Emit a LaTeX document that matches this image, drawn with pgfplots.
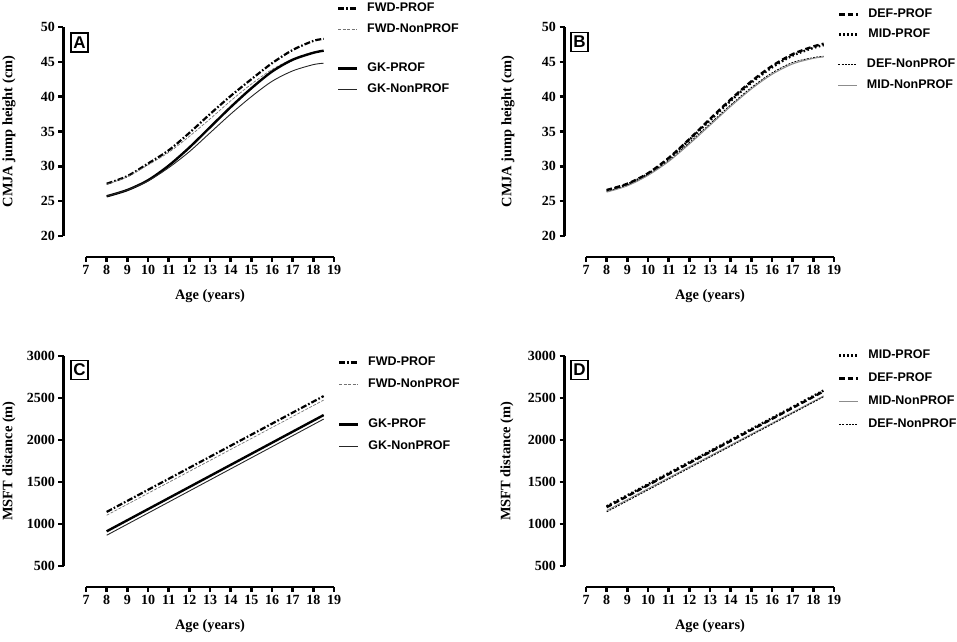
\documentclass[border=0pt]{standalone}
\usepackage{fontspec}
\setmainfont{Liberation Serif}
\newfontfamily\lsans{Liberation Sans}
\usepackage{pgfplots}
\pgfplotsset{compat=1.18}
\tikzset{
  fwdprof/.style={black, line width=2.2pt, dash pattern=on 6pt off 2pt on 1.6pt off 2pt},
  fwdnon/.style={black!55, line width=0.7pt, dash pattern=on 3pt off 1.5pt},
  gkprof/.style={black, line width=2.4pt},
  gknon/.style={black!85, line width=0.9pt},
  defprof/.style={black, line width=2.4pt, dash pattern=on 5.5pt off 3pt},
  midprof/.style={black, line width=2.4pt, dash pattern=on 1.6pt off 2.4pt},
  defnon/.style={black, line width=0.9pt, dash pattern=on 2pt off 1.2pt},
  midnon/.style={black!45, line width=1pt},
}
\pgfplotsset{
  panel/.style={scale only axis, width=248pt, anchor=south west,
    axis x line*=bottom, axis y line*=left,
    axis line style={line width=2.6pt, black},
    xmin=7, xmax=19, xtick={7,...,19},
    tick align=outside, major tick length=5pt,
    every tick/.style={line width=2.4pt, black},
    tick label style={font=\fontsize{14}{14}\selectfont\bfseries},
    /pgf/number format/assume math mode=true,
    /pgf/number format/1000 sep={},
    axis x line shift=21pt,
    xlabel={Age (years)},
    label style={font=\fontsize{14.4}{14.4}\selectfont\bfseries},
    xlabel style={anchor=center},
    ylabel style={anchor=center},
    clip=false},
  leg/.style={legend style={draw=none, fill=none, inner sep=0pt, outer sep=0pt,
      anchor=north west,
      nodes={inner sep=0pt, text height=9pt, text depth=3pt,
        font=\lsans\bfseries\fontsize{12.5}{12.5}\selectfont},
      column sep=9pt},
    legend cell align=left,
    legend image code/.code={\draw[##1] (0pt,0pt) -- (19pt,0pt);}},
  overlay/.style={scale only axis, width=248pt, anchor=south west, hide axis,
    xmin=7, xmax=19, leg},
}
\begin{document}
\begin{tikzpicture}
\useasboundingbox (0,0) rectangle (957pt,641pt);
% ---------------- Panel A ----------------
\begin{axis}[panel, at={(86pt,405pt)}, height=209pt,
  ymin=20, ymax=50, ytick={20,25,...,50}, axis y line shift=22.5pt,
  ylabel={CMJA jump height (cm)},
  xlabel style={at={(axis description cs:0.5,-0.287)}},
  ylabel style={at={(axis description cs:-0.3105,0.5)}},
  leg, legend style={at={(axis description cs:1.012,1.117)}, row sep=8.5pt}]
\addplot[fwdprof, smooth] coordinates {(8,27.5) (9,28.6) (10,30.4) (11,32.3) (12,34.8) (13,37.5) (14,40.1) (15,42.5) (16,44.8) (17,46.7) (18,48.0) (18.5,48.3)};
\addlegendentry{FWD-PROF}
\addplot[fwdnon, smooth] coordinates {(8,27.4) (9,28.5) (10,30.2) (11,32.0) (12,34.3) (13,36.8) (14,39.4) (15,41.8) (16,43.9) (17,45.4) (18,46.4) (18.5,46.6)};
\addlegendentry{FWD-NonPROF}
\addplot[gkprof, smooth, forget plot] coordinates {(8,25.7) (9,26.6) (10,28.0) (11,30.1) (12,32.7) (13,35.6) (14,38.5) (15,41.2) (16,43.6) (17,45.3) (18,46.3) (18.5,46.6)};
\addplot[gknon, smooth, forget plot] coordinates {(8,25.7) (9,26.6) (10,27.9) (11,29.8) (12,32.1) (13,34.8) (14,37.5) (15,40.0) (16,42.2) (17,43.7) (18,44.6) (18.5,44.8)};
\end{axis}
\begin{axis}[overlay, at={(86pt,405pt)}, height=209pt, ymin=20, ymax=50,
  legend style={at={(axis description cs:1.012,0.830)}, row sep=8.5pt}]
\addlegendimage{gkprof}
\addlegendentry{GK-PROF}
\addlegendimage{gknon}
\addlegendentry{GK-NonPROF}
\end{axis}
% ---------------- Panel B ----------------
\begin{axis}[panel, at={(586pt,405pt)}, height=209pt,
  ymin=20, ymax=50, ytick={20,25,...,50}, axis y line shift=21.5pt,
  ylabel={CMJA jump height (cm)},
  xlabel style={at={(axis description cs:0.5,-0.287)}},
  ylabel style={at={(axis description cs:-0.3145,0.5)}},
  leg, legend style={at={(axis description cs:1.016,1.0885)}, row sep=8pt}]
\addplot[defprof, smooth] coordinates {(8,26.6) (9,27.5) (10,29.0) (11,31.2) (12,33.9) (13,36.8) (14,39.6) (15,42.2) (16,44.4) (17,46.1) (18,47.2) (18.5,47.6)};
\addlegendentry{DEF-PROF}
\addplot[midprof, smooth] coordinates {(8,26.5) (9,27.4) (10,28.9) (11,31.1) (12,33.8) (13,36.6) (14,39.4) (15,42.0) (16,44.2) (17,45.9) (18,47.0) (18.5,47.4)};
\addlegendentry{MID-PROF}
\addplot[defnon, smooth, forget plot] coordinates {(8,26.4) (9,27.3) (10,28.8) (11,30.8) (12,33.4) (13,36.1) (14,38.8) (15,41.3) (16,43.4) (17,44.9) (18,45.6) (18.5,45.8)};
\addplot[midnon, smooth, forget plot] coordinates {(8,26.3) (9,27.2) (10,28.7) (11,30.7) (12,33.2) (13,35.9) (14,38.6) (15,41.1) (16,43.2) (17,44.7) (18,45.5) (18.5,45.7)};
\end{axis}
\begin{axis}[overlay, at={(586pt,405pt)}, height=209pt, ymin=20, ymax=50,
  legend style={at={(axis description cs:1.016,0.849)}, row sep=9pt}]
\addlegendimage{defnon}
\addlegendentry{DEF-NonPROF}
\addlegendimage{midnon}
\addlegendentry{MID-NonPROF}
\end{axis}
% ---------------- Panel C ----------------
\begin{axis}[panel, at={(86pt,75pt)}, height=210pt,
  ymin=500, ymax=3000, ytick={500,1000,...,3000}, axis y line shift=22.5pt,
  ylabel={MSFT distance (m)},
  xlabel style={at={(axis description cs:0.5,-0.2857)}},
  ylabel style={at={(axis description cs:-0.3105,0.5)}},
  leg, legend style={at={(axis description cs:1.016,0.9976)}, row sep=10pt}]
\addplot[fwdprof] coordinates {(8,1144) (18.5,2523)};
\addlegendentry{FWD-PROF}
\addplot[fwdnon] coordinates {(8,1104) (18.5,2475)};
\addlegendentry{FWD-NonPROF}
\addplot[gkprof, forget plot] coordinates {(8,913) (18.5,2297)};
\addplot[gknon, forget plot] coordinates {(8,866) (18.5,2249)};
\end{axis}
\begin{axis}[overlay, at={(86pt,75pt)}, height=210pt, ymin=500, ymax=3000,
  legend style={at={(axis description cs:1.016,0.702)}, row sep=10pt}]
\addlegendimage{gkprof}
\addlegendentry{GK-PROF}
\addlegendimage{gknon}
\addlegendentry{GK-NonPROF}
\end{axis}
% ---------------- Panel D ----------------
\begin{axis}[panel, at={(586pt,75pt)}, height=210pt,
  ymin=500, ymax=3000, ytick={500,1000,...,3000}, axis y line shift=21.5pt,
  ylabel={MSFT distance (m)},
  xlabel style={at={(axis description cs:0.5,-0.2857)}},
  ylabel style={at={(axis description cs:-0.3185,0.5)}},
  leg, legend style={at={(axis description cs:1.016,1.031)}, row sep=11pt}]
\addplot[midprof] coordinates {(8,1211) (18.5,2590)};
\addlegendentry{MID-PROF}
\addplot[defprof] coordinates {(8,1200) (18.5,2580)};
\addlegendentry{DEF-PROF}
\addplot[midnon] coordinates {(8,1160) (18.5,2525)};
\addlegendentry{MID-NonPROF}
\addplot[defnon] coordinates {(8,1145) (18.5,2515)};
\addlegendentry{DEF-NonPROF}
\end{axis}
% panel letters
\tikzset{plab/.style={draw, line width=1.4pt, minimum width=17pt, minimum height=19pt, inner sep=0pt, font=\lsans\bfseries\fontsize{17}{17}\selectfont}}
\node[plab] at (79.5pt,598.5pt) {A};
\node[plab] at (579.5pt,599pt) {B};
\node[plab] at (79.5pt,271pt) {C};
\node[plab] at (579.5pt,271pt) {D};
\end{tikzpicture}
\end{document}
